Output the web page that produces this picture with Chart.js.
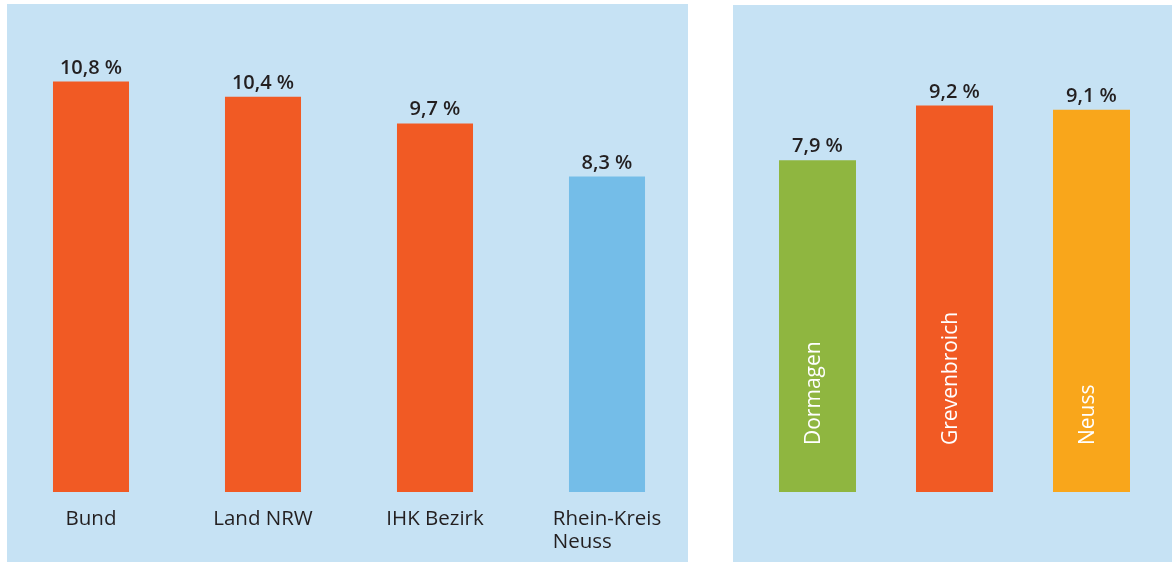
<!DOCTYPE html>
<html>
<head>
<meta charset="utf-8">
<script src="https://cdn.jsdelivr.net/npm/chart.js@4"></script>
<style>
  body { margin: 0; background: #ffffff; width: 1175px; height: 563px; overflow: hidden; position: relative; }
  .panel { position: absolute; background: #c6e2f4; }
  canvas { position: absolute; top: 0; }
</style>
</head>
<body>
<div class="panel" style="left:7px; top:4px; width:681px; height:558px;"></div>
<div class="panel" style="left:733px; top:5px; width:439px; height:557px;"></div>
<canvas id="left" width="700" height="563" style="left:0px;"></canvas>
<canvas id="right" width="475" height="563" style="left:700px;"></canvas>
<script>
// left chart: regional comparison
var leftCategories = [['Bund'], ['Land NRW'], ['IHK Bezirk'], ['Rhein-Kreis', 'Neuss']];
var leftValues = [10.8, 10.4, 9.7, 8.3];
var leftColors = ['#f15a24', '#f15a24', '#f15a24', '#74bde8'];

// right chart: towns
var rightCategories = ['Dormagen', 'Grevenbroich', 'Neuss'];
var rightValues = [7.9, 9.2, 9.1];
var rightColors = ['#8fb640', '#f15a24', '#f9a61b'];

var textColor = '#231f20';
var fontFamily = '"Open Sans", sans-serif';

function formatValue(v) {
    return v.toFixed(1).replace('.', ',') + ' %';
}

// value labels above the bars
var valueLabelPlugin = {
    id: 'valueLabels',
    afterDatasetsDraw: function(chart) {
        var ctx = chart.ctx;
        var meta = chart.getDatasetMeta(0);
        var values = chart.data.datasets[0].data;
        ctx.save();
        ctx.font = '600 20px ' + fontFamily;
        ctx.fillStyle = textColor;
        ctx.textAlign = 'center';
        ctx.textBaseline = 'alphabetic';
        meta.data.forEach(function(bar, i) {
            ctx.fillText(formatValue(values[i]), bar.x, bar.y - 8);
        });
        ctx.restore();
    }
};

// category labels under the bars, block centered, lines left aligned
var bottomLabelPlugin = {
    id: 'bottomLabels',
    afterDatasetsDraw: function(chart) {
        var ctx = chart.ctx;
        var xScale = chart.scales.x;
        var base = chart.chartArea.bottom;
        ctx.save();
        ctx.font = '20.5px ' + fontFamily;
        ctx.fillStyle = textColor;
        ctx.textAlign = 'left';
        ctx.textBaseline = 'alphabetic';
        chart.data.labels.forEach(function(lines, i) {
            var cx = xScale.getPixelForValue(i);
            var maxW = 0;
            lines.forEach(function(line) {
                maxW = Math.max(maxW, ctx.measureText(line).width);
            });
            lines.forEach(function(line, j) {
                ctx.fillText(line, cx - maxW / 2, base + 33 + j * 23);
            });
        });
        ctx.restore();
    }
};

// rotated white labels inside the bars
var innerLabelPlugin = {
    id: 'innerLabels',
    afterDatasetsDraw: function(chart) {
        var ctx = chart.ctx;
        var meta = chart.getDatasetMeta(0);
        var base = chart.chartArea.bottom;
        ctx.save();
        ctx.font = '21px ' + fontFamily;
        ctx.fillStyle = '#ffffff';
        ctx.textAlign = 'left';
        ctx.textBaseline = 'middle';
        meta.data.forEach(function(bar, i) {
            ctx.save();
            ctx.translate(bar.x - 3, base - 47);
            ctx.rotate(-Math.PI / 2);
            ctx.fillText(chart.data.labels[i], 0, 0);
            ctx.restore();
        });
        ctx.restore();
    }
};

function baseOptions(max, padding) {
    return {
        responsive: false,
        animation: false,
        layout: { padding: padding },
        plugins: { legend: { display: false }, tooltip: { enabled: false } },
        scales: {
            x: { display: false, offset: true },
            y: { display: false, min: 0, max: max }
        }
    };
}

new Chart(document.getElementById('left'), {
    type: 'bar',
    data: {
        labels: leftCategories,
        datasets: [{
            data: leftValues,
            backgroundColor: leftColors,
            categoryPercentage: 1.0,
            barPercentage: 0.442
        }]
    },
    options: baseOptions(12, { left: 5, right: 7, top: 36, bottom: 71 }),
    plugins: [valueLabelPlugin, bottomLabelPlugin]
});

new Chart(document.getElementById('right'), {
    type: 'bar',
    data: {
        labels: rightCategories,
        datasets: [{
            data: rightValues,
            backgroundColor: rightColors,
            categoryPercentage: 1.0,
            barPercentage: 0.562
        }]
    },
    options: baseOptions(10, { left: 49, right: 15, top: 72, bottom: 71 }),
    plugins: [valueLabelPlugin, innerLabelPlugin]
});
</script>
</body>
</html>
